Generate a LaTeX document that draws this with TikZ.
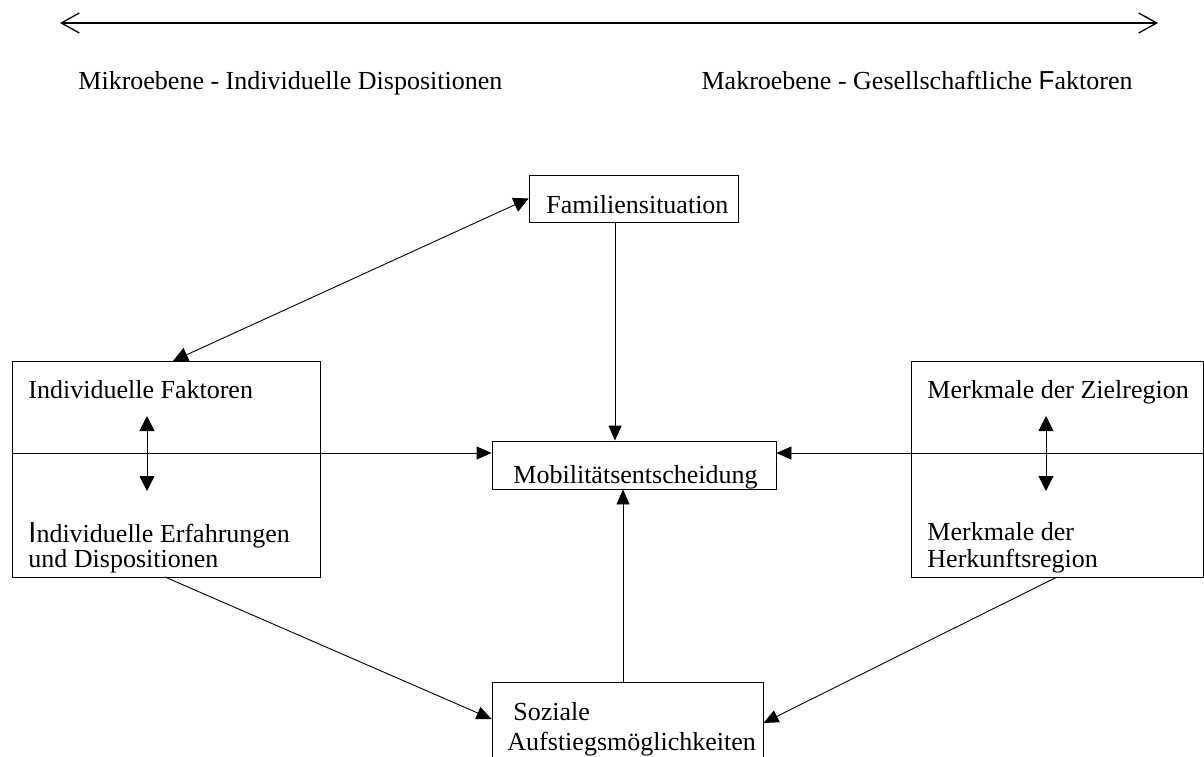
\documentclass[tikz,border=0pt]{standalone}
\usepackage{fontspec}
\setmainfont{Liberation Serif}
\newfontfamily\arialfont{Liberation Sans}
\usetikzlibrary{arrows.meta}

\begin{document}
\begin{tikzpicture}[x=1pt, y=-1pt, line width=0.9pt,
        box/.style={draw, rectangle, inner sep=0pt},
        lbl/.style={anchor=base west, inner sep=0pt,
            font=\fontsize{26}{26}\selectfont},
        tri/.style={-{Triangle[length=15pt, width=13pt]}},
        bitri/.style={{Triangle[length=15pt, width=15pt]}-{Triangle[length=15pt, width=15pt]}}]
        \useasboundingbox (0,0) rectangle (1204,756);

        % level axis
        \coordinate (ml) at (60,23);
        \coordinate (mr) at (1158,23);
        \draw[line width=1.3pt, {Straight Barb[length=18pt, width=20pt]}-{Straight Barb[length=18pt, width=20pt]}] (ml) -- (mr);
        \node[lbl] (mikro) at (78,89) {Mikroebene - Individuelle Dispositionen};
        \node[lbl, anchor=base east] (makro) at (1133,89) {Makroebene - Gesellschaftliche {\arialfont F}aktoren};

        % boxes
        \node[box, minimum width=209pt, minimum height=47pt] (fam) at (633.5,198.5) {};
        \node[box, minimum width=284pt, minimum height=48pt] (mob) at (634,465) {};
        \node[box, minimum width=308pt, minimum height=216pt] (indiv) at (166,469) {};
        \node[box, minimum width=292pt, minimum height=216pt] (merk) at (1057,469) {};
        \node[box, minimum width=271pt, minimum height=80pt] (soz) at (627.5,722) {};

        \node[lbl] (famtxt) at (546,213) {Familiensituation};
        \node[lbl] (mobtxt) at (513,483) {Mobilitätsentscheidung};
        \node[lbl] (indtxt) at (28,398) {Individuelle Faktoren};
        \node[lbl] (erftxt) at (28,542) {{\arialfont\fontsize{29}{29}\selectfont I}ndividuelle Erfahrungen};
        \node[lbl] (disptxt) at (28,567) {und Dispositionen};
        \node[lbl] (zieltxt) at (927,398) {Merkmale der Zielregion};
        \node[lbl] (merktxt) at (927,540) {Merkmale der};
        \node[lbl] (herktxt) at (927,567) {Herkunftsregion};
        \node[lbl] (soztxt) at (513,720) {Soziale};
        \node[lbl] (auftxt) at (507,750) {Aufstiegsmöglichkeiten};

        % helper points
        \coordinate (hl) at (0,453);
        \coordinate (indtop) at (173,361);
        \coordinate (indbot) at (165,577);
        \coordinate (merkbot) at (1057,577);
        \coordinate (famx) at (615,0);
        \coordinate (sozx) at (623,0);
        \coordinate (inda) at (147,416);
        \coordinate (indb) at (147,491);
        \coordinate (merka) at (1046,416);
        \coordinate (merkb) at (1046,491);

        % connectors
        \draw[bitri] (indtop) -- (fam.west);
        \draw[tri] (fam.south -| famx) -- (mob.north -| famx);
        \draw[tri] (indiv.west |- hl) -- (mob.west |- hl);
        \draw[tri] (merk.east |- hl) -- (mob.east |- hl);
        \draw[tri] (soz.north -| sozx) -- (mob.south -| sozx);
        \draw[tri] (indbot) -- ([yshift=3pt]soz.west);
        \draw[tri] (merkbot) -- ([yshift=-1pt]soz.east);
        \draw[bitri] (inda) -- (indb);
        \draw[bitri] (merka) -- (merkb);
    \end{tikzpicture}
\end{document}
